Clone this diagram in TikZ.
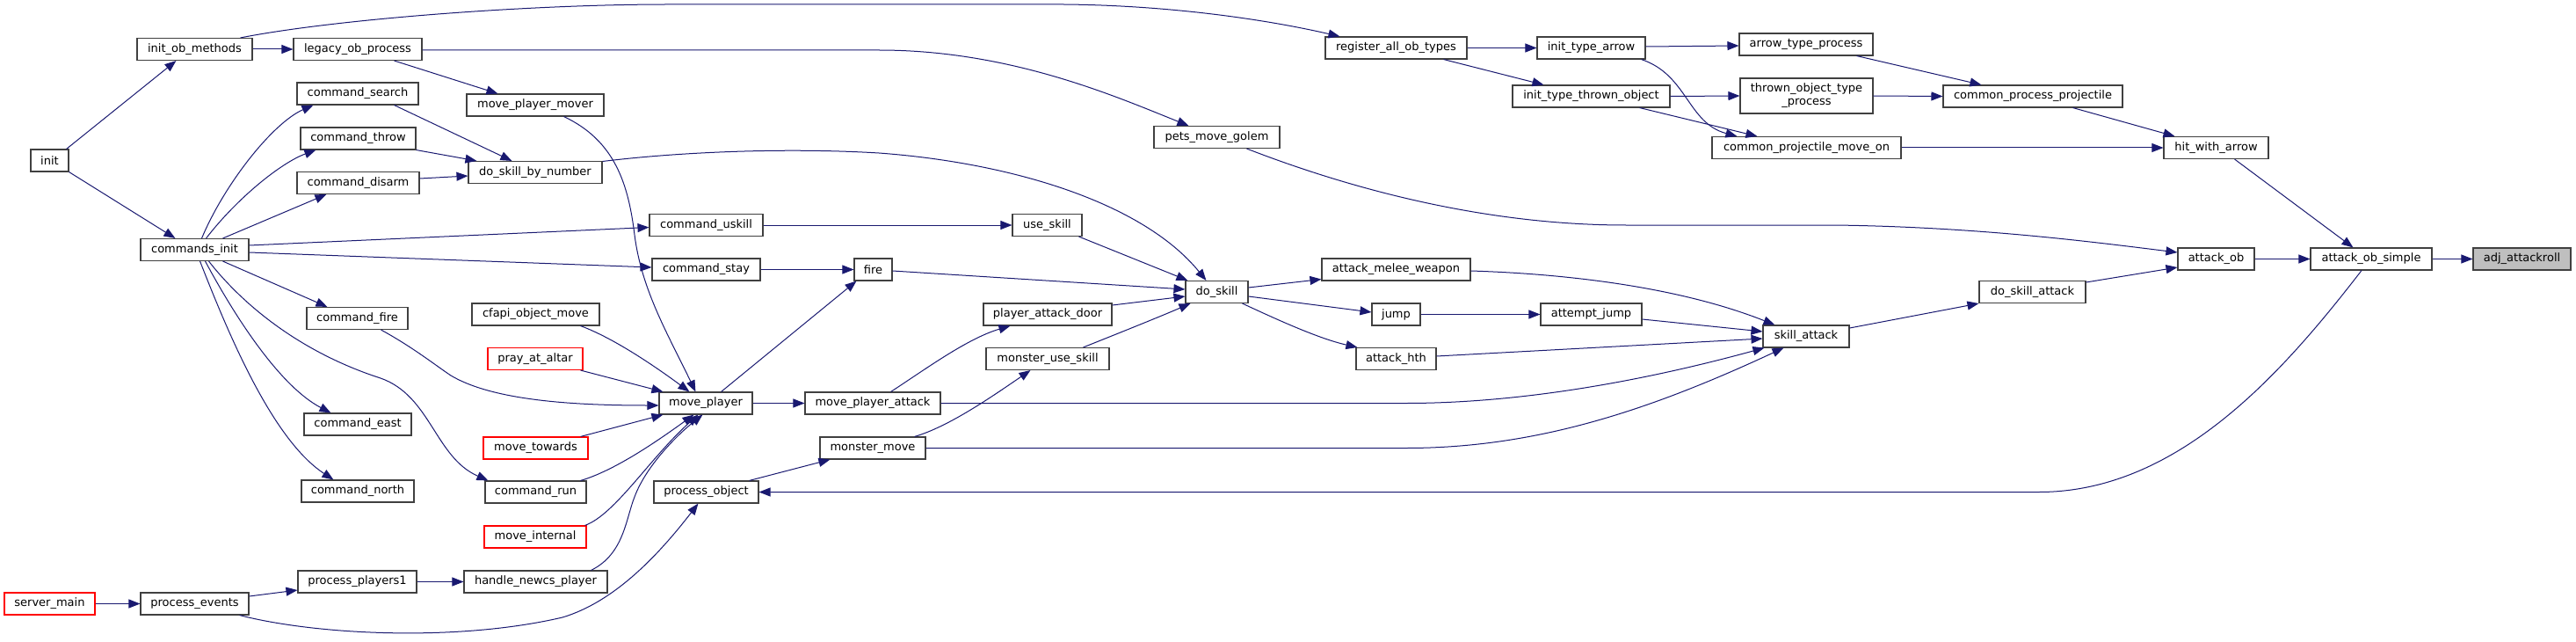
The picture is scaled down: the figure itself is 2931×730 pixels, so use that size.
\documentclass[tikz,border=0pt]{standalone}
\usepackage{fontspec}
\setmainfont{DejaVu Sans}
\usetikzlibrary{arrows.meta}
\definecolor{edgec}{HTML}{191970}
\definecolor{nodeb}{HTML}{404040}
\definecolor{hlfill}{HTML}{BFBFBF}
\begin{document}
\begin{tikzpicture}[x=1pt,y=-1pt,
  box/.style={draw=nodeb, fill=white, line width=1.1pt, inner sep=0pt, minimum height=25pt, font=\fontsize{13}{15}\selectfont, text=black},
  redbox/.style={box, draw=red},
  hlbox/.style={box, fill=hlfill},
  edge/.style={draw=edgec, line width=1pt, -{Triangle[length=13pt,width=10pt]}, color=edgec}]
\useasboundingbox (0,0) rectangle (2931,730);
% column 1
\node[box, minimum width=43pt] (init) at (56.5,182.5) {init};
\node[redbox, minimum width=103pt] (smain) at (56.5,686.5) {server\_main};
% column 2
\node[box, minimum width=131pt] (iom) at (221.5,56) {init\_ob\_methods};
\node[box, minimum width=123pt] (cinit) at (221.5,284) {commands\_init};
\node[box, minimum width=123pt] (pevents) at (221.5,686.5) {process\_events};
% column 3
\node[box, minimum width=146pt] (lop) at (407,56) {legacy\_ob\_process};
\node[box, minimum width=138pt] (csearch) at (407,106.5) {command\_search};
\node[box, minimum width=131pt] (cthrow) at (407.5,157.5) {command\_throw};
\node[box, minimum width=139pt] (cdisarm) at (407.5,208) {command\_disarm};
\node[box, minimum width=115pt] (cfire) at (406.5,362) {command\_fire};
\node[box, minimum width=122pt] (ceast) at (407,482.5) {command\_east};
\node[box, minimum width=128pt] (cnorth) at (407,558.5) {command\_north};
\node[box, minimum width=135pt] (pp1) at (406.5,661.5) {process\_players1};
% column 4
\node[box, minimum width=156pt] (pmm) at (609,119.5) {move\_player\_mover};
\node[box, minimum width=152pt] (dsbn) at (609,196) {do\_skill\_by\_number};
\node[box, minimum width=145pt] (cfapi) at (609.5,357.5) {cfapi\_object\_move};
\node[redbox, minimum width=108pt] (pray) at (609,408) {pray\_at\_altar};
\node[redbox, minimum width=119pt] (mtow) at (609.5,509.5) {move\_towards};
\node[box, minimum width=115pt] (crun) at (609.5,559.5) {command\_run};
\node[redbox, minimum width=116pt] (mint) at (609,610.5) {move\_internal};
\node[box, minimum width=163pt] (hnp) at (609.5,661.5) {handle\_newcs\_player};
% column 5
\node[box, minimum width=129pt] (cuskill) at (803.5,256) {command\_uskill};
\node[box, minimum width=123pt] (cstay) at (803.5,306.5) {command\_stay};
\node[box, minimum width=106pt] (mp) at (803,458.5) {move\_player};
\node[box, minimum width=119pt] (pobj) at (803.5,559.5) {process\_object};
% column 6
\node[box, minimum width=43pt] (fire) at (993.5,306.5) {fire};
\node[box, minimum width=154pt] (mpa) at (993,458.5) {move\_player\_attack};
\node[box, minimum width=120pt] (mmove) at (993,509.5) {monster\_move};
% column 7
\node[box, minimum width=79pt] (uskill) at (1191.5,256) {use\_skill};
\node[box, minimum width=146pt] (pad) at (1192,357.5) {player\_attack\_door};
\node[box, minimum width=140pt] (mus) at (1192,408) {monster\_use\_skill};
% column 8
\node[box, minimum width=143pt] (pmg) at (1384.5,156) {pets\_move\_golem};
\node[box, minimum width=71pt] (dskill) at (1384.5,332) {do\_skill};
% column 9
\node[box, minimum width=161pt] (raot) at (1588.5,54.5) {register\_all\_ob\_types};
\node[box, minimum width=169pt] (amw) at (1588.5,306.5) {attack\_melee\_weapon};
\node[box, minimum width=55pt] (jump) at (1588.5,357.5) {jump};
\node[box, minimum width=91pt] (ahth) at (1588.5,408) {attack\_hth};
% column 10
\node[box, minimum width=123pt] (ita) at (1810.5,54.5) {init\_type\_arrow};
\node[box, minimum width=179pt] (itto) at (1810.5,109.5) {init\_type\_thrown\_object};
\node[box, minimum width=115pt] (ajump) at (1810.5,357.5) {attempt\_jump};
% column 11
\node[box, minimum width=152pt] (atp) at (2055,50.5) {arrow\_type\_process};
\node[box, minimum width=151pt, minimum height=40pt, align=center] (totp) at (2055.5,109) {thrown\_object\_type\\\_process};
\node[box, minimum width=215pt] (cpmo) at (2055.5,168) {common\_projectile\_move\_on};
\node[box, minimum width=98pt] (sattack) at (2055,382.5) {skill\_attack};
% column 12
\node[box, minimum width=204pt] (cpp) at (2313,109.5) {common\_process\_projectile};
\node[box, minimum width=121pt] (dsa) at (2312.5,332) {do\_skill\_attack};
% column 13
\node[box, minimum width=119pt] (hwa) at (2521.5,168) {hit\_with\_arrow};
\node[box, minimum width=87pt] (aob) at (2521.5,294.5) {attack\_ob};
% column 14-15
\node[box, minimum width=138pt] (aos) at (2698,294.5) {attack\_ob\_simple};
\node[hlbox, minimum width=111pt] (adj) at (2869.5,294.5) {adj\_attackroll};

% edges
\draw[edge] ([xshift=-3pt]init.north east) -- ([xshift=45pt]iom.south west);
\draw[edge] (init.south east) -- ([xshift=40pt]cinit.north west);
\draw[edge] (iom.east) -- (lop.west);
\draw[edge] ([xshift=-14pt]iom.north east) .. controls (380,22) and (600,5) .. (760,5) -- (1210,5) .. controls (1330,6) and (1440,22) .. ([xshift=17pt]raot.north west);
\draw[edge] ([xshift=-32pt]lop.south east) -- ([xshift=36pt]pmm.north west);
\draw[edge] ([yshift=-1pt]lop.east) -- (1000,57) .. controls (1150,57) and (1270,110) .. ([xshift=40pt]pmg.north west);
\draw[edge] ([xshift=-54pt]cinit.north east) .. controls (255,210) and (310,140) .. ([xshift=19pt]csearch.south west);
\draw[edge] ([xshift=-49pt]cinit.north east) .. controls (270,225) and (320,185) .. ([xshift=18pt]cthrow.south west);
\draw[edge] ([xshift=-30pt]cinit.north east) -- ([xshift=34pt]cdisarm.south west);
\draw[edge] ([yshift=5pt]cinit.east) -- ([yshift=-2.5pt]cuskill.west);
\draw[edge] ([yshift=-3pt]cinit.east) -- ([yshift=2.5pt]cstay.west);
\draw[edge] ([xshift=-30pt]cinit.south east) -- ([xshift=24pt]cfire.north west);
\draw[edge] ([xshift=-56pt]cinit.south east) .. controls (260,380) and (310,500) .. ([xshift=37pt]cnorth.north west);
\draw[edge] ([xshift=-50pt]cinit.south east) .. controls (270,365) and (320,440) .. ([xshift=31pt]ceast.north west);
\draw[edge] ([xshift=-46pt]cinit.south east) .. controls (275,345) and (340,400) .. (433,430) .. controls (490,450) and (495,520) .. ([xshift=4pt]crun.north west);
\draw[edge] ([xshift=-31pt]cfire.south east) .. controls (470,395) and (495,415) .. (513,427) .. controls (560,455) and (650,461) .. ([yshift=-2.5pt]mp.west);
\draw[edge] ([xshift=-46pt]pmm.south east) .. controls (700,160) and (715,210) .. (722,267) .. controls (730,330) and (760,380) .. ([xshift=42pt]mp.north west);
\draw[edge] ([xshift=-22pt]cfapi.south east) .. controls (700,385) and (750,420) .. ([xshift=35pt]mp.north west);
\draw[edge] ([xshift=-3pt]pray.south east) -- ([xshift=5pt]mp.north west);
\draw[edge] ([xshift=-9pt]mtow.north east) -- ([xshift=5pt]mp.south west);
\draw[edge] ([xshift=-7pt]crun.north east) .. controls (700,535) and (750,500) .. ([xshift=40pt]mp.south west);
\draw[edge] ([xshift=-2pt]mint.north east) .. controls (700,585) and (740,520) .. ([xshift=45pt]mp.south west);
\draw[edge] ([xshift=-19pt]hnp.north east) .. controls (710,630) and (712,590) .. (722,565) .. controls (735,530) and (770,495) .. ([xshift=50pt]mp.south west);
\draw[edge] ([xshift=-36pt]mp.north east) -- ([xshift=3pt]fire.south west);
\draw[edge] (cstay.east) -- (fire.west);
\draw[edge] (cuskill.east) -- (uskill.west);
\draw[edge] ([yshift=-1.5pt]fire.east) -- ([yshift=3pt]dskill.west);
\draw[edge] ([xshift=-4pt]uskill.south east) -- ([xshift=3pt]dskill.north west);
\draw[edge] ([yshift=12.5pt]dsbn.east) .. controls (780,172) and (900,168) .. (1000,174) .. controls (1150,185) and (1300,230) .. ([xshift=24pt]dskill.north west);
\draw[edge] ([xshift=-28pt]csearch.south east) -- ([xshift=50pt]dsbn.north west);
\draw[edge] (cthrow.south east) -- ([xshift=10pt]dsbn.north west);
\draw[edge] ([yshift=5pt]cdisarm.east) -- ([yshift=-4pt]dsbn.west);
\draw[edge] ([yshift=10.5pt]pad.east) -- ([yshift=-5pt]dskill.west);
\draw[edge] ([xshift=-30pt]mus.north east) .. controls (1270,380) and (1320,360) .. ([xshift=6pt]dskill.south west);
\draw[edge] ([xshift=-57pt]mpa.north east) .. controls (1050,422) and (1100,385) .. ([xshift=31pt]pad.south west);
\draw[edge] ([xshift=-13pt]mmove.north east) .. controls (1080,485) and (1130,450) .. ([xshift=51pt]mus.south west);
\draw[edge] (mp.east) -- (mpa.west);
\draw[edge] ([xshift=-11pt]pobj.north east) -- ([xshift=12pt]mmove.south west);
\draw[edge] ([xshift=-11pt]pevents.south east) .. controls (360,722) and (520,730) .. (640,702) .. controls (700,684) and (750,630) .. ([xshift=51pt]pobj.south west);
\draw[edge] (smain.east) -- (pevents.west);
\draw[edge] ([yshift=8.5pt]pevents.east) -- ([yshift=-9.5pt]pp1.west);
\draw[edge] (pp1.east) -- (hnp.west);
\draw[edge] (mpa.east) -- (1600,458.5) .. controls (1750,458.5) and (1900,425) .. ([xshift=2pt]sattack.south west);
\draw[edge] (mmove.east) -- (1600,509.5) .. controls (1750,509.5) and (1880,465) .. ([xshift=24pt]sattack.south west);
\draw[edge] ([yshift=3pt]ahth.east) -- ([yshift=-2.5pt]sattack.west);
\draw[edge] ([yshift=-5.5pt]ajump.east) -- ([yshift=5.5pt]sattack.west);
\draw[edge] ([yshift=-1.5pt]amw.east) .. controls (1800,312) and (1920,330) .. ([xshift=14pt]sattack.north west);
\draw[edge] ([yshift=5pt]dskill.east) -- ([yshift=-11pt]amw.west);
\draw[edge] ([yshift=-5pt]dskill.east) -- ([yshift=2.5pt]jump.west);
\draw[edge] ([xshift=-7pt]dskill.south east) .. controls (1450,362) and (1500,385) .. ([xshift=2pt]ahth.north west);
\draw[edge] (jump.east) -- (ajump.west);
\draw[edge] ([yshift=9.5pt]sattack.east) -- (dsa.south west);
\draw[edge] ([yshift=11pt]dsa.east) -- ([yshift=-9.5pt]aob.west);
\draw[edge] ([xshift=-38pt]pmg.south east) .. controls (1550,220) and (1700,256) .. (1850,256) -- (2087,256) .. controls (2250,258) and (2380,275) .. ([yshift=7.5pt]aob.west);
\draw[edge] (aob.east) -- (aos.west);
\draw[edge] ([xshift=-39pt]hwa.south east) -- ([xshift=49pt]aos.north west);
\draw[edge] (aos.east) -- (adj.west);
\draw[edge] ([xshift=-11pt]aos.south) .. controls (2600,420) and (2480,559.5) .. (2320,559.5) -- (pobj.east);
\draw[edge] ([xshift=-57pt]cpp.south east) -- ([xshift=13pt]hwa.north west);
\draw[edge] (cpmo.east) -- (hwa.west);
\draw[edge] ([xshift=-19pt]atp.south east) -- ([xshift=44pt]cpp.north west);
\draw[edge] (totp.east) -- (cpp.west);
\draw[edge] ([yshift=1.5pt]ita.east) -- ([yshift=-1.5pt]atp.west);
\draw[edge] (itto.east) -- (totp.west);
\draw[edge] ([xshift=-5pt]ita.south east) .. controls (1920,85) and (1920,140) .. ([xshift=29pt]cpmo.north west);
\draw[edge] ([xshift=-35pt]itto.south east) -- ([xshift=52pt]cpmo.north west);
\draw[edge] (raot.east) -- (ita.west);
\draw[edge] ([xshift=-27pt]raot.south east) -- ([xshift=36pt]itto.north west);
\end{tikzpicture}
\end{document}
